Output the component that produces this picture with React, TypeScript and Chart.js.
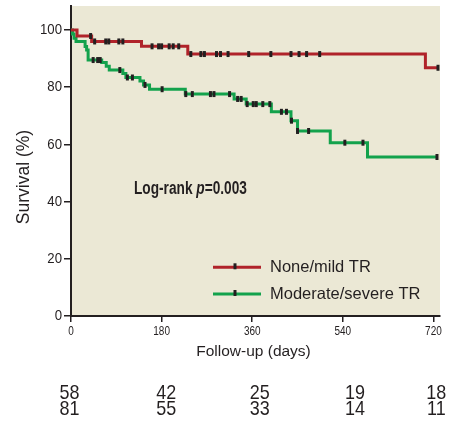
import React, { useEffect, useRef } from 'react';
import { Chart, registerables } from 'chart.js';

Chart.register(...registerables);

// ---------- data ----------
const xTickValues = [0, 180, 360, 540, 720];
const yTickValues = [0, 20, 40, 60, 80, 100];
const groupLabels = ['None/mild TR', 'Moderate/severe TR'];

// None/mild TR Kaplan-Meier steps (days, survival %)
const noneTimes = [0, 12, 41, 140, 232, 704, 730];
const noneSurv = [100, 97.9, 96.0, 94.3, 91.6, 86.8, 86.8];
const noneCensor = [39, 47, 69, 75, 95, 103, 161, 174, 180, 195, 203, 214, 238, 258, 265, 289, 297, 312, 353, 397, 437, 453, 468, 494, 729];

// Moderate/severe TR Kaplan-Meier steps
const modTimes = [0, 3, 6, 10, 28, 31, 34, 61, 70, 76, 103, 109, 137, 144, 156, 227, 324, 348, 398, 437, 450, 515, 589, 728];
const modSurv = [100, 98.6, 97.1, 96.0, 94.2, 93.0, 89.5, 88.6, 87.3, 86.0, 84.8, 83.4, 82.2, 80.8, 79.3, 77.6, 75.9, 74.1, 71.4, 68.3, 64.7, 60.6, 55.6, 55.6];
const modCensor = [44, 53, 58, 97, 112, 122, 147, 181, 228, 241, 277, 284, 315, 331, 338, 350, 362, 368, 381, 395, 418, 428, 438, 450, 472, 544, 580, 727];

// numbers at risk at each x tick
const atRiskNone = [58, 42, 25, 19, 18];
const atRiskMod = [81, 55, 33, 14, 11];

const annotationPrefix = 'Log-rank ';
const annotationP = 'p';
const annotationValue = '=0.003';
const xTitle = 'Follow-up (days)';
const yTitle = 'Survival (%)';

// ---------- styles ----------
const INK = '#231f20';
const RED = '#b0232a';
const GREEN = '#13a24c';
const BG = '#ebe8d5';
const SANS = "'Liberation Sans', Arial, sans-serif";

const stepAt = (times: number[], surv: number[], t: number) => {
  let v = surv[0];
  for (let i = 0; i < times.length; i++) if (times[i] <= t) v = surv[i];
  return v;
};

// draws text horizontally condensed by factor sx (emulates a narrow typeface)
const drawNarrow = (ctx: CanvasRenderingContext2D, text: string, x: number, y: number, font: string, sx: number, align: CanvasTextAlign) => {
  ctx.save();
  ctx.translate(x, y);
  ctx.scale(sx, 1);
  ctx.font = font;
  ctx.textAlign = align;
  ctx.textBaseline = 'middle';
  ctx.fillText(text, 0, 0);
  const w = ctx.measureText(text).width * sx;
  ctx.restore();
  return w;
};

const bgPlugin = {
  id: 'plotBg',
  beforeDraw(chart: any) {
    const { ctx, chartArea } = chart;
    ctx.save();
    ctx.fillStyle = BG;
    ctx.fillRect(chartArea.left, chartArea.top, chartArea.right - chartArea.left, chartArea.bottom - chartArea.top);
    ctx.restore();
  },
};

const textPlugin = {
  id: 'extraText',
  afterDraw(chart: any) {
    const { ctx } = chart;
    const xs = chart.scales.x;
    const ys = chart.scales.y;
    ctx.save();
    ctx.fillStyle = INK;

    // tick labels
    yTickValues.forEach((v) => {
      drawNarrow(ctx, String(v), 62, ys.getPixelForValue(v), `15px ${SANS}`, 0.88, 'right');
    });
    xTickValues.forEach((v) => {
      drawNarrow(ctx, String(v), xs.getPixelForValue(v), 331.5, `12.5px ${SANS}`, 0.8, 'center');
    });

    // y title
    ctx.save();
    ctx.translate(24.5, 177);
    ctx.rotate(-Math.PI / 2);
    ctx.font = `17.5px ${SANS}`;
    ctx.textAlign = 'center';
    ctx.textBaseline = 'middle';
    ctx.fillText(yTitle, 0, 0);
    ctx.restore();

    // x title
    ctx.font = `15.5px ${SANS}`;
    ctx.textAlign = 'center';
    ctx.textBaseline = 'middle';
    ctx.fillText(xTitle, 253.5, 351.5);

    // annotation
    let ax = 134;
    const ay = 189;
    ax += drawNarrow(ctx, annotationPrefix, ax, ay, `bold 18px ${SANS}`, 0.76, 'left');
    ax += drawNarrow(ctx, annotationP, ax, ay, `italic bold 18px ${SANS}`, 0.76, 'left');
    drawNarrow(ctx, annotationValue, ax, ay, `bold 18px ${SANS}`, 0.76, 'left');

    // legend
    const legendRows = [
      { label: groupLabels[0], color: RED, y: 267.3 },
      { label: groupLabels[1], color: GREEN, y: 294 },
    ];
    legendRows.forEach((r) => {
      ctx.strokeStyle = r.color;
      ctx.lineWidth = 3;
      ctx.beginPath();
      ctx.moveTo(213, r.y);
      ctx.lineTo(261, r.y);
      ctx.stroke();
      ctx.strokeStyle = INK;
      ctx.lineWidth = 3;
      ctx.beginPath();
      ctx.moveTo(235, r.y - 4);
      ctx.lineTo(235, r.y + 2);
      ctx.stroke();
      ctx.fillStyle = INK;
      ctx.font = `16.5px ${SANS}`;
      ctx.textAlign = 'left';
      ctx.textBaseline = 'middle';
      ctx.fillText(r.label, 270, r.y);
    });

    // numbers at risk
    const offsets = [-1.5, 4.6, 7.6, 12.2, 2.9];
    xTickValues.forEach((v, i) => {
      const px = xs.getPixelForValue(v) + offsets[i];
      drawNarrow(ctx, String(atRiskNone[i]), px, 393, `21px ${SANS}`, 0.855, 'center');
      drawNarrow(ctx, String(atRiskMod[i]), px, 409.5, `21px ${SANS}`, 0.855, 'center');
    });
    ctx.restore();
  },
};

export default function App() {
  const ref = useRef<HTMLCanvasElement | null>(null);
  useEffect(() => {
    if (!ref.current) return;
    const line = (times: number[], surv: number[]) => times.map((t, i) => ({ x: t, y: surv[i] }));
    const cens = (times: number[], surv: number[], c: number[]) => c.map((t) => ({ x: t, y: stepAt(times, surv, t) }));
    const censorStyle = {
      type: 'scatter' as const,
      showLine: false,
      pointStyle: 'line',
      rotation: 90,
      pointRadius: 3,
      pointHoverRadius: 3,
      pointBorderColor: INK,
      pointBackgroundColor: INK,
      pointBorderWidth: 3,
      borderColor: INK,
      order: 0,
    };
    const chart = new Chart(ref.current, {
      type: 'line',
      data: {
        datasets: [
          { label: groupLabels[0], data: line(noneTimes, noneSurv), borderColor: RED, borderWidth: 3, stepped: true, pointRadius: 0, fill: false, order: 1 } as any,
          { label: groupLabels[1], data: line(modTimes, modSurv), borderColor: GREEN, borderWidth: 3, stepped: true, pointRadius: 0, fill: false, order: 2 } as any,
          { label: 'censor1', data: cens(noneTimes, noneSurv, noneCensor), ...censorStyle } as any,
          { label: 'censor2', data: cens(modTimes, modSurv, modCensor), ...censorStyle } as any,
        ],
      },
      options: {
        responsive: false,
        animation: false,
        events: [],
        layout: { padding: { top: 6, right: 17, left: 0, bottom: 0 } },
        plugins: { legend: { display: false }, tooltip: { enabled: false } },
        scales: {
          x: {
            type: 'linear',
            min: 0,
            max: 733,
            afterBuildTicks: (s: any) => { s.ticks = xTickValues.map((v) => ({ value: v })); },
            afterFit: (s: any) => { s.height = 109; },
            grid: { drawOnChartArea: false, drawTicks: true, tickLength: 6, color: INK, lineWidth: 1.5 },
            border: { display: true, color: INK, width: 2 },
            ticks: { display: false, autoSkip: false },
          },
          y: {
            type: 'linear',
            min: 0,
            max: 108.4,
            afterBuildTicks: (s: any) => { s.ticks = yTickValues.map((v) => ({ value: v })); },
            afterFit: (s: any) => { s.width = 71; },
            grid: { drawOnChartArea: false, drawTicks: true, tickLength: 7, color: INK, lineWidth: 1.5 },
            border: { display: true, color: INK, width: 2 },
            ticks: { display: false, autoSkip: false },
          },
        },
      } as any,
      plugins: [bgPlugin, textPlugin],
    });
    return () => chart.destroy();
  }, []);
  return (
    <div style={{ position: 'fixed', left: 0, top: 0, width: 457, height: 425, background: '#fff' }}>
      <canvas ref={ref} width={457} height={425} style={{ display: 'block', width: 457, height: 425 }} />
    </div>
  );
}
